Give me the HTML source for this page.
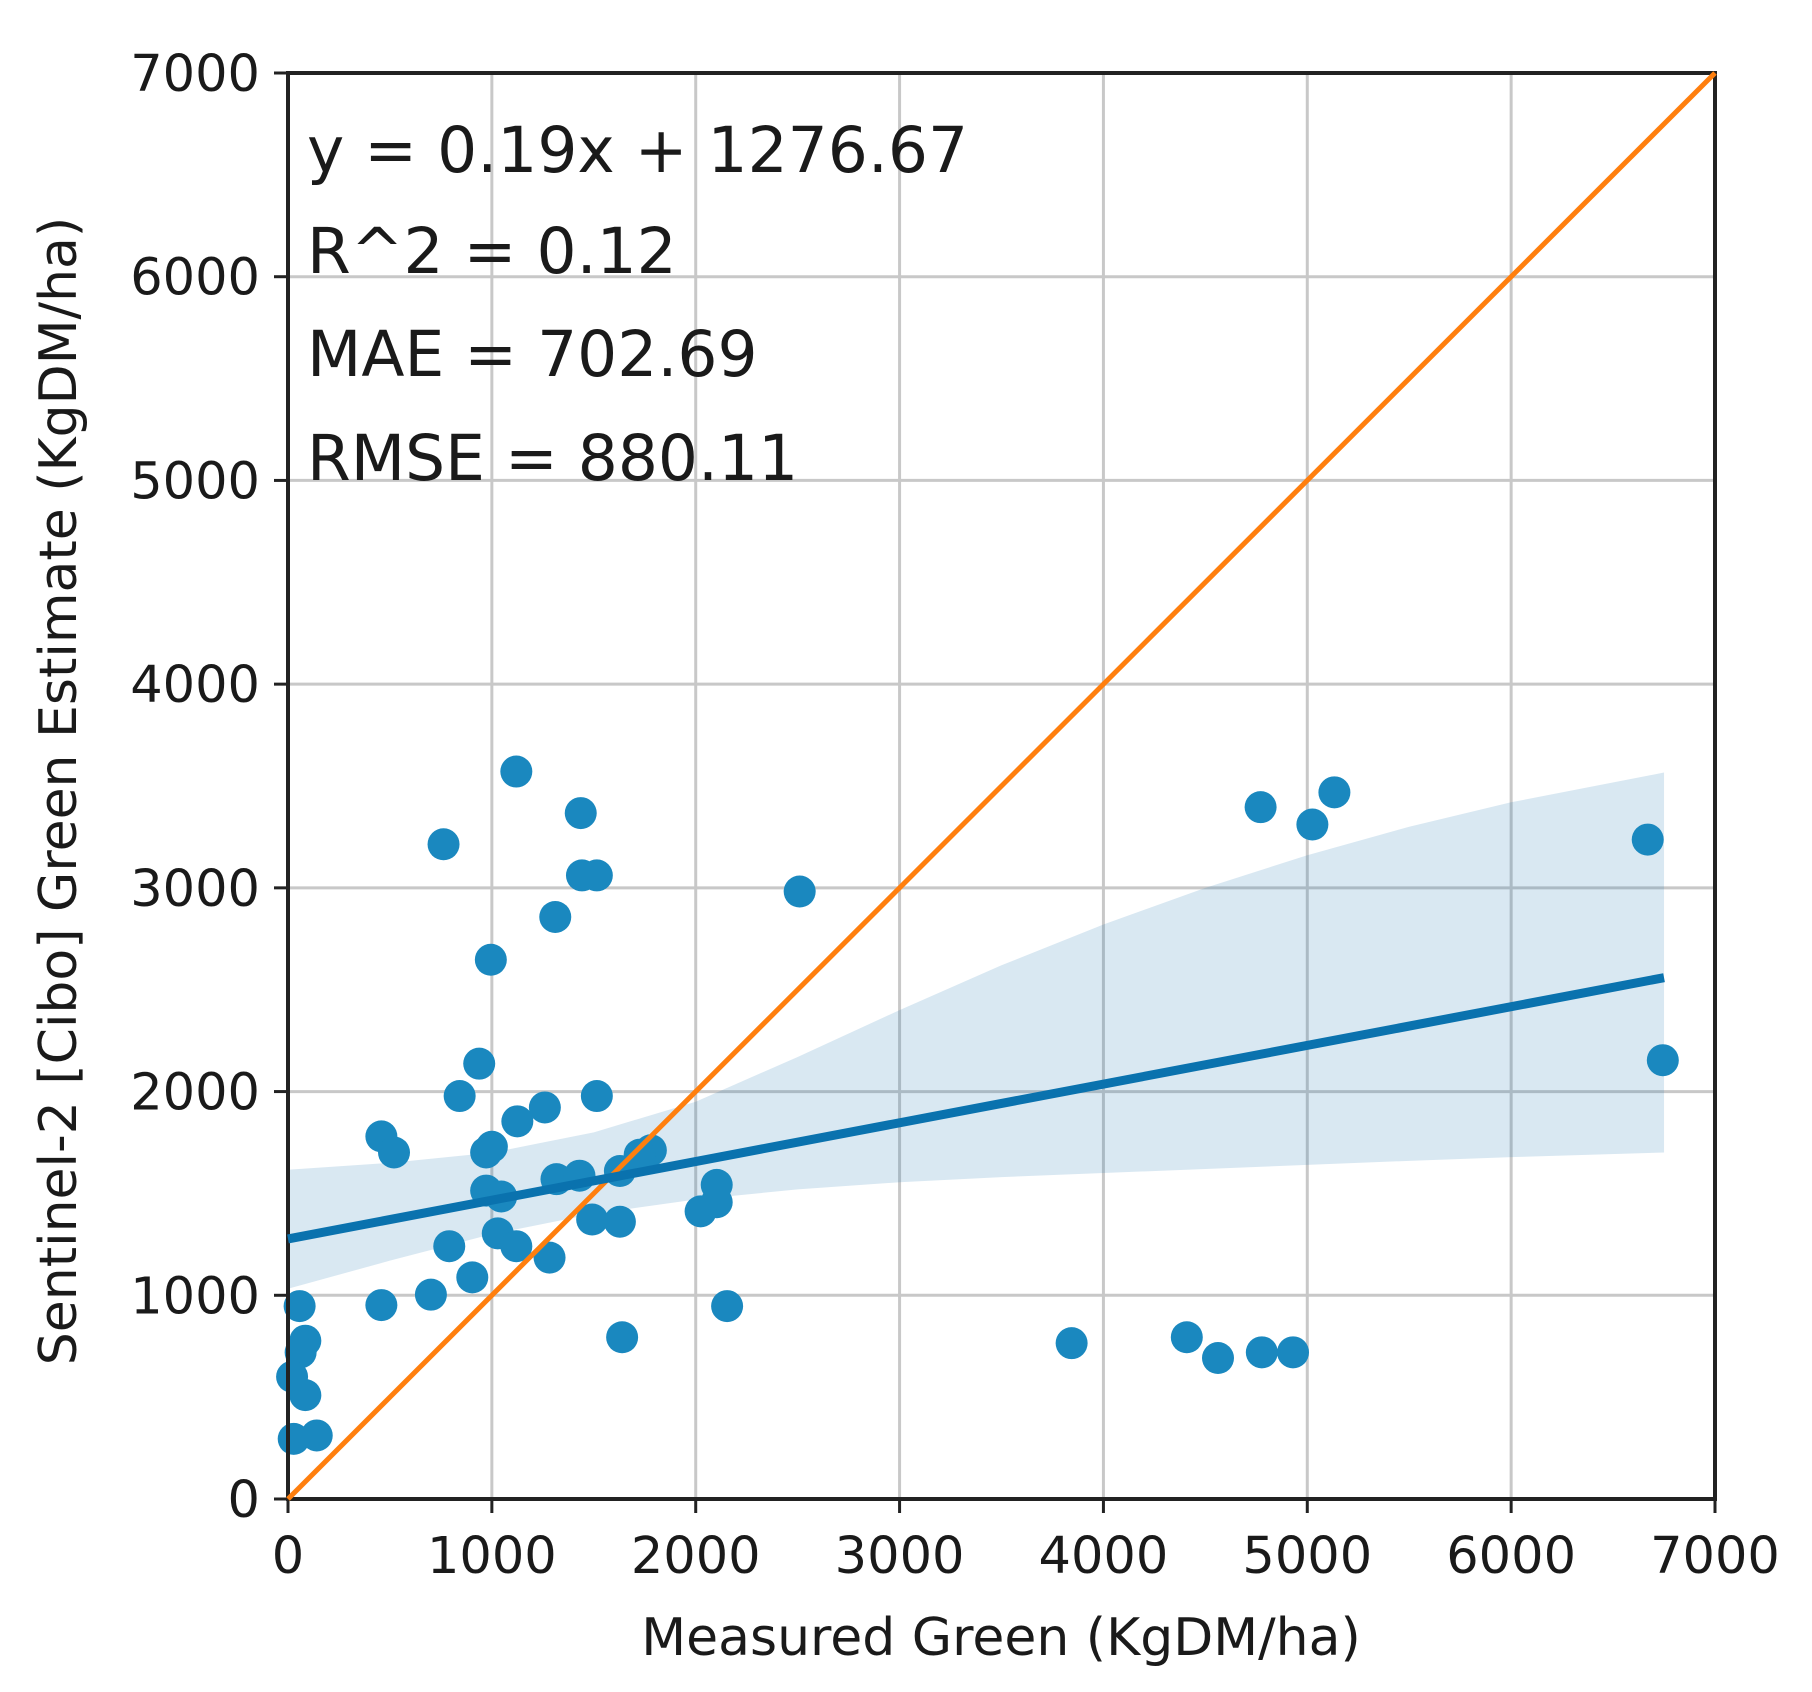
<!DOCTYPE html>
<html><head><meta charset="utf-8"><style>
body{margin:0;background:#fff;}
svg text{font-family:"DejaVu Sans","Liberation Sans",sans-serif;fill:#1a1a1a;}
</style></head><body>
<svg id="chart" width="1812" height="1687" viewBox="0 0 1812 1687" xmlns="http://www.w3.org/2000/svg">
<g id="grid"></g>
<g id="band"></g>
<g id="lines"></g>
<g id="points"></g>
<g id="axes"></g>
<g font-size="63">
<text x="307" y="172">y = 0.19x + 1276.67</text>
<text x="307" y="273">R^2 = 0.12</text>
<text x="307" y="376">MAE = 702.69</text>
<text x="307" y="480">RMSE = 880.11</text>
</g>
<text x="1001" y="1655" font-size="52" text-anchor="middle">Measured Green (KgDM/ha)</text>
<text transform="translate(76,791) rotate(-90)" font-size="52" text-anchor="middle">Sentinel-2 [Cibo] Green Estimate (KgDM/ha)</text>
</svg>
<script>
const ticks=[0,1000,2000,3000,4000,5000,6000,7000];
const ptX=[1120,763,1436,1442,1515,1311,2510,995,938,842,1515,1260,1125,458,520,972,1000,1780,1725,1317,1430,1628,972,1046,2103,2103,2024,1492,1628,1029,1120,791,1283,904,701,458,2154,1639,57,85,62,85,141,28,3844,4409,4562,4777,4930,4771,5025,5133,6670,6744,20];
const ptY=[3571,3214,3367,3061,3061,2857,2982,2647,2137,1978,1978,1922,1854,1780,1701,1701,1729,1712,1690,1570,1587,1610,1514,1485,1542,1457,1412,1372,1361,1304,1241,1241,1185,1088,1003,952,947,794,947,777,720,510,312,295,765,794,692,720,720,3396,3311,3469,3237,2154,600];
const bandX=[0,500,1000,1500,2000,2500,3000,3500,4000,4500,5000,5500,6000,6750];
const bandUpper=[1616,1650,1700,1800,1950,2170,2400,2620,2820,3000,3160,3300,3420,3566];
const bandLower=[1032,1170,1300,1400,1470,1520,1555,1580,1600,1620,1640,1660,1678,1701];
const slope=0.19, intercept=1276.67, regMaxX=6750;
const X0=288,X1=1715,Y0=1499,Y1=73,MAX=7000;
const sx=v=>X0+(X1-X0)*v/MAX, sy=v=>Y0-(Y0-Y1)*v/MAX;
const NS='http://www.w3.org/2000/svg';
function mk(tag,parent,attrs){const e=document.createElementNS(NS,tag);for(const k in attrs)e.setAttribute(k,attrs[k]);document.getElementById(parent).appendChild(e);return e;}
ticks.forEach(t=>{
 let g=mk('line','grid',{x1:sx(t),x2:sx(t),y1:Y0,y2:Y1,stroke:'#c8c8c8','stroke-width':3});
 
 
 g=mk('line','grid',{x1:X0,x2:X1,y1:sy(t),y2:sy(t),stroke:'#c8c8c8','stroke-width':3});
 
 
 let tk=mk('line','axes',{x1:sx(t),x2:sx(t),y1:Y0,y2:Y0+14,stroke:'#222','stroke-width':3});
 
 
 tk=mk('line','axes',{x1:X0-14,x2:X0,y1:sy(t),y2:sy(t),stroke:'#222','stroke-width':3});
 
 
 let tx=mk('text','axes',{x:sx(t),y:Y0+74,'font-size':51,'text-anchor':'middle'});tx.textContent=t;
 
 
 tx=mk('text','axes',{x:X0-28,y:sy(t)+18,'font-size':51,'text-anchor':'end'});tx.textContent=t;
 
 
});
let d='M'+bandX.map((x,i)=>sx(x)+','+sy(bandUpper[i])).join('L');
for(let i=bandX.length-1;i>=0;i--)d+='L'+sx(bandX[i])+','+sy(bandLower[i]);
const b=mk('path','band',{d:d+'Z',fill:'#1f77b4','fill-opacity':0.17});


const o=mk('line','lines',{x1:sx(0),y1:sy(0),x2:sx(MAX),y2:sy(MAX),stroke:'#ff7f0e','stroke-width':5});


ptX.forEach((x,i)=>{const c=mk('circle','points',{cx:sx(x),cy:sy(ptY[i]),r:16,fill:'#1a88bf'});
 
 });
const r=mk('line','lines',{x1:sx(0),y1:sy(intercept),x2:sx(regMaxX),y2:sy(intercept+slope*regMaxX),stroke:'#0a72ae','stroke-width':9});


document.getElementById('lines').parentNode.appendChild(document.getElementById('lines'));
const f=mk('rect','axes',{x:X0,y:Y1,width:X1-X0,height:Y0-Y1,fill:'none',stroke:'#222','stroke-width':4});


</script>
</body></html>
